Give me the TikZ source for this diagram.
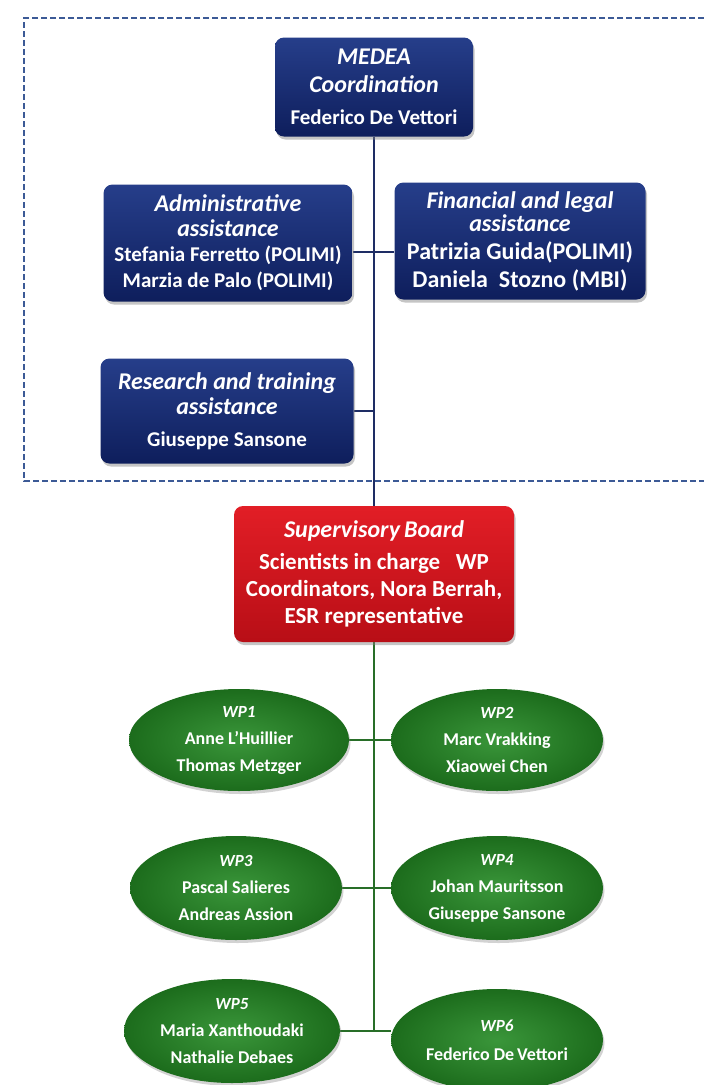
\documentclass[tikz,border=0pt]{standalone}
\usepackage{fontspec}
\setmainfont{Carlito}
\usetikzlibrary{shapes.geometric,shadows,backgrounds}

\definecolor{navyTop}{RGB}{38,62,138}
\definecolor{navyBot}{RGB}{14,30,92}
\definecolor{navyLine}{RGB}{30,45,100}
\definecolor{frameBlue}{RGB}{60,90,150}
\definecolor{redTop}{RGB}{226,30,38}
\definecolor{redBot}{RGB}{184,14,22}
\definecolor{greenIn}{RGB}{58,150,58}
\definecolor{greenOut}{RGB}{28,108,28}
\definecolor{greenLine}{RGB}{40,110,40}

\tikzset{
  boxbase/.style={rounded corners=9pt, text=white, align=center, inner sep=2pt,
    drop shadow={opacity=0.45, shadow xshift=1.5pt, shadow yshift=-3pt}},
  navybox/.style={boxbase, top color=navyTop, bottom color=navyBot},
  redbox/.style={boxbase, top color=redTop, bottom color=redBot},
  wpnode/.style={ellipse, text=white, align=center, inner sep=0pt,
    inner color=greenIn, outer color=greenOut,
    font=\fontsize{18}{27}\selectfont\bfseries,
    drop shadow={opacity=0.35, shadow xshift=1.5pt, shadow yshift=-3pt}},
  navyconn/.style={draw=navyLine, line width=1.1pt},
  greenconn/.style={draw=greenLine, line width=1.4pt},
  frame/.style={draw=frameBlue, line width=1.4pt, dash pattern=on 6pt off 3pt}
}
% title lines: bold italic; plain name lines: bold
\newcommand{\tl}[1]{{\fontsize{24}{24}\selectfont\bfseries\itshape #1}}
\newcommand{\wt}[1]{{\fontsize{17}{17}\selectfont\bfseries\itshape #1}}

\begin{document}
\begin{tikzpicture}[x=1pt,y=-1pt]
\useasboundingbox (0,0) rectangle (704,1085);

% dashed coordination frame, open to the right
\draw[frame] (704,18) -- (24,18) -- (24,481) -- (704,481);

% coordination level
\node[navybox, minimum width=198pt, minimum height=99pt,
      font=\fontsize{21}{28}\selectfont\bfseries] (medea) at (374,87)
  {\tl{MEDEA}\\\tl{Coordination}\\[4pt]Federico De Vettori};
\node[navybox, minimum width=249pt, minimum height=117pt,
      font=\fontsize{21}{25}\selectfont\bfseries] (admin) at (228,243)
  {\tl{Administrative}\\\tl{assistance}\\Stefania Ferretto (POLIMI)\\[1pt]Marzia de Palo (POLIMI)};
\node[navybox, minimum width=251pt, minimum height=117pt,
      font=\fontsize{24}{23}\selectfont\bfseries] (fin) at (520,241)
  {\tl{Financial and legal}\\\tl{assistance}\\[5pt]Patrizia Guida(POLIMI)\\[5pt]Daniela\ \ Stozno (MBI)};
\node[navybox, minimum width=253pt, minimum height=105pt,
      font=\fontsize{21}{25}\selectfont\bfseries] (research) at (227,411)
  {\tl{Research and training}\\\tl{assistance}\\[7pt]Giuseppe Sansone};

% supervisory board
\node[redbox, minimum width=280pt, minimum height=136pt,
      font=\fontsize{23}{27}\selectfont\bfseries] (sup) at (374,574)
  {\tl{Supervisory\,Board}\\[5pt]Scientists in charge\ \ \ WP\\Coordinators,\ Nora Berrah,\\ESR representative};

% work packages
\node[wpnode, minimum width=220pt, minimum height=102pt] (wp1) at (239,740)
  {\wt{WP1}\\Anne L'Huillier\\Thomas Metzger};
\node[wpnode, minimum width=212pt, minimum height=102pt] (wp2) at (497,740)
  {\wt{WP2}\\Marc Vrakking\\Xiaowei Chen};
\node[wpnode, minimum width=212pt, minimum height=104pt] (wp3) at (236,888)
  {\wt{WP3}\\Pascal Salieres\\Andreas Assion};
\node[wpnode, minimum width=212pt, minimum height=104pt] (wp4) at (497,888)
  {\wt{WP4}\\Johan Mauritsson\\Giuseppe Sansone};
\node[wpnode, minimum width=216pt, minimum height=104pt] (wp5) at (232,1031)
  {\wt{WP5}\\Maria Xanthoudaki\\Nathalie Debaes};
\node[wpnode, minimum width=212pt, minimum height=102pt] (wp6) at (497,1040)
  {\wt{WP6}\\[2pt]Federico De\,Vettori};

\coordinate (trunkend) at (374,1031);

% connectors, kept behind the boxes
\begin{scope}[on background layer]
  \fill[white] (0,0) rectangle (704,1085);
  \draw[navyconn] (medea.south) -- (sup.north);
  \draw[navyconn] ([yshift=-9pt]admin.east) -- ([yshift=-9pt]admin.east -| fin.west);
  \draw[navyconn] (research.east) -- (research.east -| medea.south);
  \draw[greenconn] (sup.south) -- (trunkend);
  \draw[greenconn] (wp1.east) -- (wp2.west);
  \draw[greenconn] (wp3.east) -- (wp4.west);
  \draw[greenconn] (wp5.east) -- (wp5.east -| wp6.west);
\end{scope}
\end{tikzpicture}
\end{document}
